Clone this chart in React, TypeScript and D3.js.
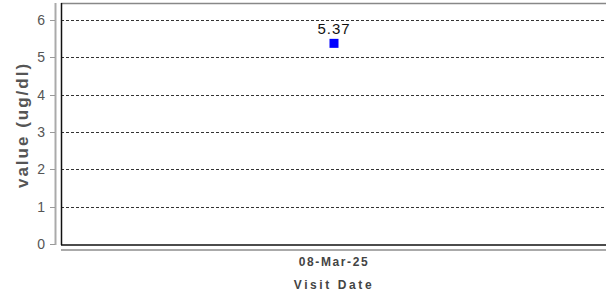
import React from 'react';
import * as d3 from 'd3';

// --- Chart data ---
const visitDates = ['08-Mar-25'];
const values = [5.37];
const yTicks = [0, 1, 2, 3, 4, 5, 6];

const W = 606;
const H = 296;
const plot = { left: 61, right: 607, top: 3, bottom: 245 };

const App = () => {
  const x = d3.scaleBand().domain(visitDates).range([plot.left, plot.right]);
  const y = d3.scaleLinear().domain([0, 6.45]).range([plot.bottom - 1, plot.top]);
  const font = 'Liberation Sans, Arial, sans-serif';

  return (
    <svg width={W} height={H} style={{ position: 'absolute', left: 0, top: 0 }}>
      <rect x={0} y={0} width={W} height={H} fill="#fff" />

      {/* grid */}
      {yTicks.filter(t => t > 0).map(t => (
        <line key={t} x1={plot.left} x2={plot.right} y1={Math.round(y(t)) + 0.5} y2={Math.round(y(t)) + 0.5}
          stroke="#333" strokeDasharray="3,2" strokeWidth={1} />
      ))}

      {/* plot frame */}
      <line x1={plot.left} x2={plot.right} y1={plot.top + 0.5} y2={plot.top + 0.5} stroke="#888" strokeWidth={1.5} />
      <line x1={plot.left + 0.5} x2={plot.left + 0.5} y1={plot.top} y2={plot.bottom} stroke="#111" strokeWidth={1.5} />
      <line x1={plot.left} x2={plot.right} y1={plot.bottom} y2={plot.bottom} stroke="#111" strokeWidth={1.5} />

      {/* y axis */}
      <line x1={55.5} x2={55.5} y1={plot.top} y2={plot.bottom} stroke="#aaa" strokeWidth={2} />
      {yTicks.map(t => (
        <g key={t}>
          <line x1={50} x2={55} y1={Math.round(y(t)) + 0.5} y2={Math.round(y(t)) + 0.5} stroke="#999" />
          <text x={45} y={y(t)} dy="0.36em" textAnchor="end" fontFamily={font} fontSize={14} fill="#555">{t}</text>
        </g>
      ))}
      <text transform={`translate(28,125) rotate(-90)`} textAnchor="middle" fontFamily={font} fontSize={17}
        fontWeight="bold" fill="#555" letterSpacing={2}>value (ug/dl)</text>

      {/* x axis */}
      <line x1={plot.left} x2={plot.right} y1={250} y2={250} stroke="#aaa" strokeWidth={2} />
      {visitDates.map(d => (
        <text key={d} x={(x(d) ?? 0) + x.bandwidth() / 2} y={266} textAnchor="middle" fontFamily={font}
          fontSize={12} fontWeight="bold" fill="#444" letterSpacing={1.6}>{d}</text>
      ))}
      <text x={334} y={289} textAnchor="middle" fontFamily={font} fontSize={12} fontWeight="bold"
        fill="#444" letterSpacing={2.6}>Visit Date</text>

      {/* points */}
      {visitDates.map((d, i) => {
        const cx = (x(d) ?? 0) + x.bandwidth() / 2;
        const cy = y(values[i]);
        return (
          <g key={d}>
            <rect x={cx - 4.5} y={cy - 4.5} width={9} height={9} fill="#0000ff" />
            <text x={cx} y={cy - 9} textAnchor="middle" fontFamily={font} fontSize={15} fill="#111"
              letterSpacing={1}>{values[i].toFixed(2)}</text>
          </g>
        );
      })}
    </svg>
  );
};

export default App;
